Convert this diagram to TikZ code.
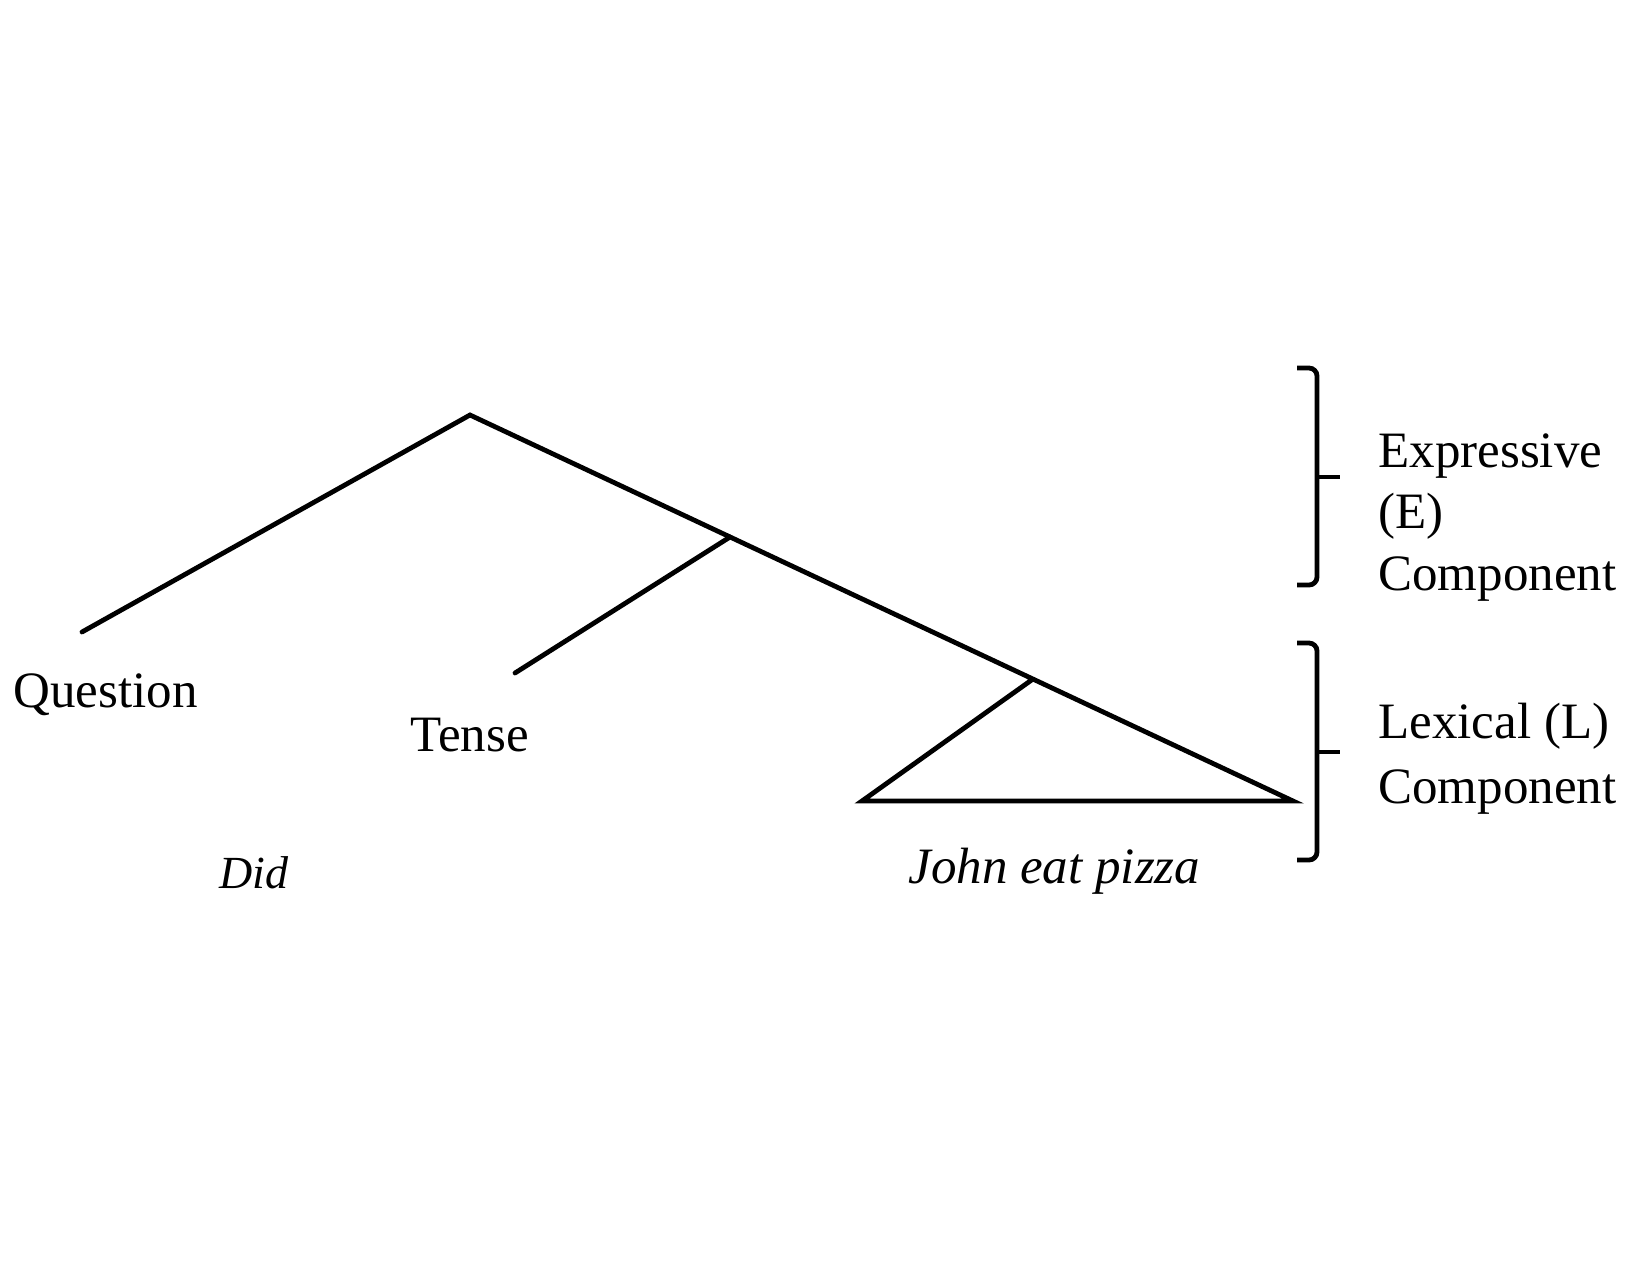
\documentclass[tikz,border=0pt]{standalone}
\usepackage{fontspec}
\setmainfont{Liberation Serif}
\usetikzlibrary{calc}
\begin{document}
\begin{tikzpicture}[x=0.5pt,y=-0.5pt,
  branch/.style={line width=2.4pt,line cap=round,line join=miter},
  lbl/.style={anchor=base west,inner sep=0pt,font=\fontsize{25.5pt}{30pt}\selectfont},
  ilbl/.style={anchor=base west,inner sep=0pt,font=\fontsize{23pt}{28pt}\selectfont\itshape},
  jlbl/.style={anchor=base west,inner sep=0pt,font=\fontsize{25.5pt}{30pt}\selectfont\itshape},
  bracket/.style={line width=2.4pt,rounded corners=4pt}]
\useasboundingbox[fill=white] (0,0) rectangle (1650,1275);
% tree points
\coordinate (apex) at (470,415);
\coordinate (qend) at (82,632);
\coordinate (rend) at (1293,801);
\coordinate (tj) at ($(apex)!0.316!(rend)$);
\coordinate (tend) at (515,673);
\coordinate (lj) at ($(apex)!0.684!(rend)$);
\coordinate (tl) at (862,801);
\draw[branch] (qend) -- (apex) -- (rend) -- (tl) -- (lj);
\draw[branch] (tj) -- (tend);
% labels
\node[lbl] (question) at (13,707) {Question};
\node[lbl] (tense) at (410,751) {Tense};
\node[ilbl] (did) at (219,888) {Did};
\node[jlbl] (john) at (908,883) {John eat pizza};
\node[lbl] (expr1) at (1378,467) {Expressive};
\node[lbl] (expr2) at (1378,528) {(E)};
\node[lbl] (expr3) at (1378,590) {Component};
\node[lbl] (lex1) at (1378,738) {Lexical (L)};
\node[lbl] (lex2) at (1378,803) {Component};
% brackets
\coordinate (eb1) at (1297,368);
\coordinate (eb2) at (1297,585);
\coordinate (em) at (1317,477);
\coordinate (emt) at (1340,477);
\draw[bracket] (eb1) -- (1317,368) -- (1317,585) -- (eb2);
\draw[line width=2.4pt] (em) -- (emt);
\coordinate (lb1) at (1297,643);
\coordinate (lb2) at (1297,860);
\coordinate (lm) at (1317,752);
\coordinate (lmt) at (1340,752);
\draw[bracket] (lb1) -- (1317,643) -- (1317,860) -- (lb2);
\draw[line width=2.4pt] (lm) -- (lmt);
\end{tikzpicture}
\end{document}
